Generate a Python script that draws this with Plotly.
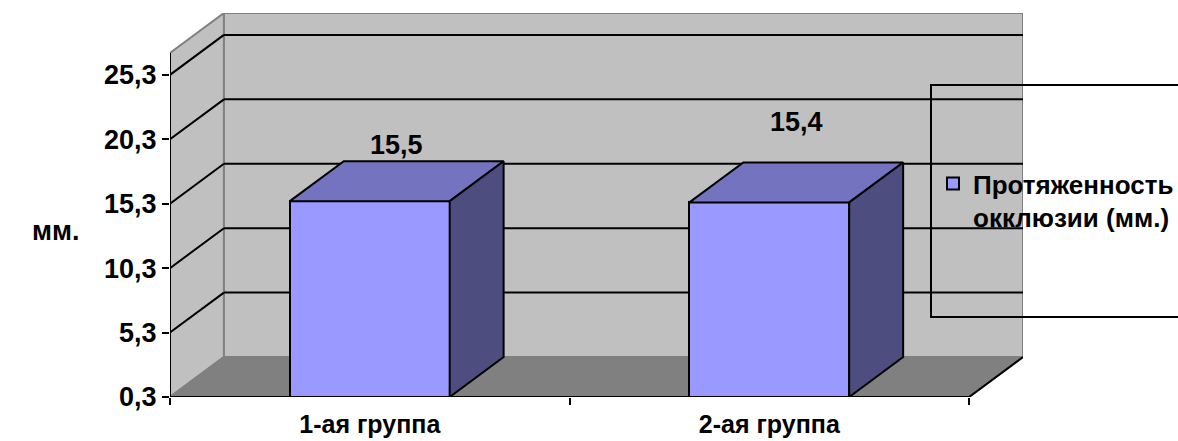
import plotly.graph_objects as go

# ---- data ----
CATEGORIES = ["1-ая группа", "2-ая группа"]
VALUES = [15.5, 15.4]
SERIES_NAME = "Протяженность<br>окклюзии (мм.)"
Y_TICKS = [0.3, 5.3, 10.3, 15.3, 20.3, 25.3]
Y_TITLE = "мм."

# ---- 3D box geometry (axis units) ----
Y_MIN = 0.3
Y_TOP = 27.0          # top of the value axis on the front plane
DX = 0.135            # depth offset along x
DY = 3.1              # depth offset along y
BAR_W = 0.4
N = len(CATEGORIES)

WALL = "#C0C0C0"
FLOOR = "#808080"
EDGE = "#808080"
FRONT = "#9999FF"
TOP = "#7373BF"
SIDE = "#4D4D80"
FONT = "Liberation Sans, Arial, sans-serif"


def fmt(v):
    return f"{v:.1f}".replace(".", ",")


def bold(size):
    return dict(size=size, family=FONT, color="black", weight="bold")


shapes = []


def seg(x0, y0, x1, y1, color="black", width=2):
    shapes.append(dict(type="line", xref="x", yref="y", x0=x0, y0=y0, x1=x1, y1=y1,
                       line=dict(color=color, width=width), layer="below"))


def poly(pts, fill, line, width=2):
    path = "M " + " L ".join(f"{x},{y}" for x, y in pts) + " Z"
    shapes.append(dict(type="path", xref="x", yref="y", path=path, fillcolor=fill,
                       line=dict(color=line, width=width), layer="below"))


# walls and floor
poly([(0, Y_MIN), (0, Y_TOP), (DX, Y_TOP + DY), (DX, Y_MIN + DY)], WALL, EDGE)
poly([(DX, Y_MIN + DY), (DX, Y_TOP + DY), (N + DX, Y_TOP + DY), (N + DX, Y_MIN + DY)], WALL, EDGE)
poly([(0, Y_MIN), (N, Y_MIN), (N + DX, Y_MIN + DY), (DX, Y_MIN + DY)], FLOOR, EDGE)

# gridlines on the side and back walls
for v in Y_TICKS[1:]:
    seg(0, v, DX, v + DY)
    seg(DX, v + DY, N + DX, v + DY)

# legend backdrop and frame (paper coordinates)
plot_l, plot_r, plot_t, plot_b = 170, 1023, 13, 397
pw, ph = plot_r - plot_l, plot_b - plot_t
def px(x): return (x - plot_l) / pw
def py(y): return (plot_b - y) / ph

LEG_L, LEG_R, LEG_T, LEG_B = 931, 1195, 85, 317
shapes.append(dict(type="rect", xref="paper", yref="paper", x0=px(LEG_L), x1=1, y0=py(LEG_B), y1=py(LEG_T),
                   fillcolor=WALL, line=dict(width=0), layer="below"))
shapes.append(dict(type="rect", xref="paper", yref="paper", x0=px(LEG_L), x1=px(LEG_R), y0=py(LEG_B), y1=py(LEG_T),
                   fillcolor="rgba(0,0,0,0)", line=dict(color="black", width=2), layer="above"))

# axis lines
seg(N, Y_MIN, N + DX, Y_MIN + DY)
seg(0, Y_MIN, 0, Y_TOP)
seg(0, Y_MIN, N, Y_MIN)

fig = go.Figure()

xs = [i + 0.5 for i in range(N)]
fig.add_trace(go.Bar(
    x=xs, y=[v - Y_MIN for v in VALUES], base=Y_MIN, width=BAR_W,
    marker=dict(color=FRONT, line=dict(color="black", width=2)),
    name=SERIES_NAME, showlegend=True, hoverinfo="skip",
))

for x, v in zip(xs, VALUES):
    x0, x1 = x - BAR_W / 2, x + BAR_W / 2
    top = [(x0, v), (x1, v), (x1 + DX, v + DY), (x0 + DX, v + DY), (x0, v)]
    side = [(x1, Y_MIN), (x1, v), (x1 + DX, v + DY), (x1 + DX, Y_MIN + DY), (x1, Y_MIN)]
    for pts, col in ((top, TOP), (side, SIDE)):
        fig.add_trace(go.Scatter(
            x=[p[0] for p in pts], y=[p[1] for p in pts], mode="lines",
            fill="toself", fillcolor=col, line=dict(color="black", width=2),
            showlegend=False, hoverinfo="skip",
        ))

# value labels, centred over the top face of each bar
LABEL_LIFT = [56, 80]
annotations = []
for x, v, lift in zip(xs, VALUES, LABEL_LIFT):
    annotations.append(dict(x=x + DX / 2, y=v, xref="x", yref="y", text=fmt(v), showarrow=False,
                            xanchor="center", yanchor="middle", yshift=lift, font=bold(27)))
annotations.append(dict(x=px(55), y=py(231), xref="paper", yref="paper", text=Y_TITLE, showarrow=False,
                        xanchor="center", yanchor="middle", font=bold(27)))

fig.update_layout(
    width=1178, height=441,
    margin=dict(l=plot_l, r=1178 - plot_r, t=plot_t, b=441 - plot_b, autoexpand=False),
    paper_bgcolor="white", plot_bgcolor="white",
    font=bold(24),
    shapes=shapes, annotations=annotations,
    bargap=0,
    xaxis=dict(range=[0, N + DX], showgrid=False, zeroline=False, showline=False, automargin=False,
               tickmode="array", tickvals=xs, ticktext=CATEGORIES, ticks="",
               ticklabelstandoff=10,
               minor=dict(tickmode="array", tickvals=list(range(N + 1)), ticks="outside",
                          ticklen=7, tickwidth=2, tickcolor="black", showgrid=False),
               tickfont=bold(25)),
    yaxis=dict(range=[Y_MIN, Y_TOP + DY], showgrid=False, zeroline=False, showline=False, automargin=False,
               tickmode="array", tickvals=Y_TICKS, ticktext=[fmt(v) for v in Y_TICKS],
               ticks="outside", ticklen=7, tickwidth=2, tickcolor="black",
               tickfont=bold(27)),
    legend=dict(x=px(933), y=py(160), xanchor="left", yanchor="top", bgcolor="rgba(0,0,0,0)",
                borderwidth=0, valign="top", tracegroupgap=0, font=bold(26)),
)

fig.write_html("out.html")
